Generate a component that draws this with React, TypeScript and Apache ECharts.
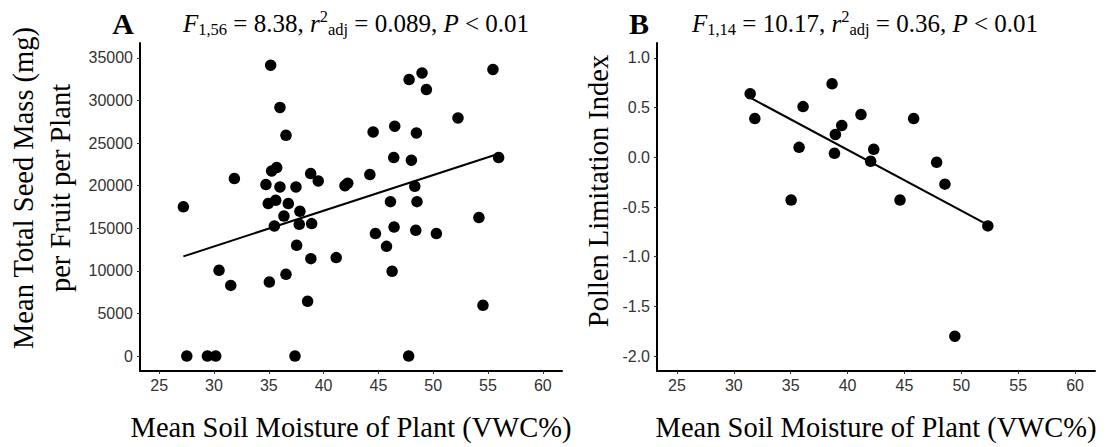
import React, { useEffect, useRef } from "react";
import * as echarts from "echarts";

// ---------- Panel A data: soil moisture (VWC%) vs mean total seed mass (mg) ----------
const moistureA = [
  35.17, 36.02, 36.57, 35.26, 35.72, 31.86, 34.74, 36.02, 37.48, 38.82,
  39.51, 41.95, 42.2, 27.21, 34.95, 35.63, 36.78, 37.84, 36.38, 35.51,
  37.78, 38.91, 37.54, 38.84, 41.15, 30.46, 36.57, 31.53, 35.05, 38.54,
  27.52, 29.4, 30.16, 37.39, 55.45, 48.98, 47.8, 49.38, 52.26, 44.52,
  46.49, 48.47, 46.4, 48.01, 55.97, 44.22, 48.32, 46.1, 48.52, 54.17,
  44.73, 46.43, 48.41, 50.29, 45.74, 46.25, 54.54, 47.76,
];
const seedMassA = [
  34150, 29180, 25920, 21730, 22130, 20840, 20130, 19850, 19850, 21420,
  20560, 20000, 20300, 17520, 17900, 18290, 17900, 17000, 16440, 15270,
  15470, 15550, 13000, 11440, 11560, 10070, 9600, 8300, 8690, 6430,
  0, 0, 0, 0, 33640, 33240, 32460, 31290, 27950, 26310,
  26980, 26190, 23300, 22990, 23300, 21310, 19930, 18130, 18130, 16260,
  14380, 15150, 14760, 14380, 12880, 9950, 5960, 0,
];
// fitted regression line (end points)
const fitAX = [27.21, 55.97];
const fitAY = [11700, 23750];

// ---------- Panel B data: soil moisture vs pollen limitation index ----------
const moistureB = [
  31.44, 31.85, 36.09, 35.74, 35.04, 38.64, 39.49, 38.93, 38.85,
  41.18, 42.3, 42.03, 44.61, 45.81, 47.83, 48.56, 52.33, 49.43,
];
const pollenB = [
  0.64, 0.39, 0.51, 0.1, -0.43, 0.74, 0.32, 0.23, 0.04,
  0.43, 0.08, -0.04, -0.43, 0.39, -0.05, -0.27, -0.69, -1.8,
];
const fitBX = [31.44, 52.33];
const fitBY = [0.6, -0.68];

// ---------- ticks ----------
const xTicks = [25, 30, 35, 40, 45, 50, 55, 60];
const yTicksA = [0, 5000, 10000, 15000, 20000, 25000, 30000, 35000];
const yTicksB = [-2, -1.5, -1, -0.5, 0, 0.5, 1];

// ---------- texts ----------
const panelLabels = ["A", "B"];
const statTextA = "{i|F}{sub|1,56}{n| = 8.38, }{i|r}{sup|2}{sub|adj}{n| = 0.089, }{i|P}{n| < 0.01}";
const statTextB = "{i|F}{sub|1,14}{n| = 10.17, }{i|r}{sup|2}{sub|adj}{n| = 0.36, }{i|P}{n| < 0.01}";
const xTitle = "Mean Soil Moisture of Plant (VWC%)";
const yTitleA = "Mean Total Seed Mass (mg)\nper Fruit per Plant";
const yTitleB = "Pollen Limitation Index";

const serif = "'Liberation Serif', 'Times New Roman', serif";
const sans = "'Liberation Sans', Arial, sans-serif";

const statRich = {
  n: { fontSize: 25, fontFamily: serif, fill: "#000", lineHeight: 30 },
  i: { fontSize: 25, fontFamily: serif, fontStyle: "italic", fill: "#000", lineHeight: 30 },
  sub: { fontSize: 16.5, fontFamily: serif, fill: "#000", lineHeight: 22, verticalAlign: "bottom" },
  sup: { fontSize: 16.5, fontFamily: serif, fill: "#000", lineHeight: 14, verticalAlign: "top" },
};

function xAxisCfg(gridIndex: number) {
  return {
    type: "value",
    gridIndex,
    min: 23.25,
    max: 61.75,
    axisLine: { show: true, onZero: false, lineStyle: { color: "#000", width: 2 } },
    axisTick: { show: true, length: 3, customValues: xTicks, lineStyle: { color: "#333", width: 1 } },
    axisLabel: { customValues: xTicks, fontFamily: sans, fontSize: 16, color: "#333", margin: 6 },
    splitLine: { show: false },
  };
}

function yAxisCfg(gridIndex: number, min: number, max: number, ticks: number[], fmt?: (v: number) => string) {
  return {
    type: "value",
    gridIndex,
    min,
    max,
    axisLine: { show: true, onZero: false, lineStyle: { color: "#000", width: 2 } },
    axisTick: { show: true, length: 3, customValues: ticks, lineStyle: { color: "#333", width: 1 } },
    axisLabel: {
      customValues: ticks,
      fontFamily: sans,
      fontSize: 16,
      color: "#333",
      margin: 7,
      formatter: fmt ? (v: number) => fmt(v) : (v: number) => String(v),
    },
    splitLine: { show: false },
  };
}

export default function App() {
  const ref = useRef<HTMLDivElement>(null);

  useEffect(() => {
    if (!ref.current) return;
    const chart = echarts.init(ref.current, undefined, { renderer: "svg" });

    const ptsA = moistureA.map((x, i) => [x, seedMassA[i]]);
    const ptsB = moistureB.map((x, i) => [x, pollenB[i]]);
    const lineA = fitAX.map((x, i) => [x, fitAY[i]]);
    const lineB = fitBX.map((x, i) => [x, fitBY[i]]);

    chart.setOption({
      animation: false,
      backgroundColor: "#fff",
      grid: [
        { left: 140, right: 544, top: 43, bottom: 76 },
        { left: 657, right: 11, top: 43, bottom: 76 },
      ],
      xAxis: [xAxisCfg(0), xAxisCfg(1)],
      yAxis: [
        yAxisCfg(0, -1750, 36750, yTicksA),
        yAxisCfg(1, -2.15, 1.15, yTicksB, (v) => v.toFixed(1)),
      ],
      series: [
        {
          type: "scatter",
          xAxisIndex: 0,
          yAxisIndex: 0,
          data: ptsA,
          symbol: "circle",
          symbolSize: 11.5,
          itemStyle: { color: "#000", opacity: 1 },
        },
        {
          type: "line",
          xAxisIndex: 0,
          yAxisIndex: 0,
          data: lineA,
          symbol: "none",
          lineStyle: { color: "#000", width: 2 },
        },
        {
          type: "scatter",
          xAxisIndex: 1,
          yAxisIndex: 1,
          data: ptsB,
          symbol: "circle",
          symbolSize: 11.5,
          itemStyle: { color: "#000", opacity: 1 },
        },
        {
          type: "line",
          xAxisIndex: 1,
          yAxisIndex: 1,
          data: lineB,
          symbol: "none",
          lineStyle: { color: "#000", width: 2 },
        },
      ],
      graphic: [
        {
          type: "text",
          x: 123,
          y: 23,
          style: { text: panelLabels[0], font: `bold 30px ${serif}`, fill: "#000", align: "center", verticalAlign: "middle" },
        },
        {
          type: "text",
          x: 639,
          y: 23,
          style: { text: panelLabels[1], font: `bold 30px ${serif}`, fill: "#000", align: "center", verticalAlign: "middle" },
        },
        {
          type: "text",
          x: 356,
          y: 8,
          style: { text: statTextA, rich: statRich, align: "center", verticalAlign: "top" },
        },
        {
          type: "text",
          x: 865,
          y: 8,
          style: { text: statTextB, rich: statRich, align: "center", verticalAlign: "top" },
        },
        {
          type: "text",
          x: 351,
          y: 427,
          style: { text: xTitle, font: `28.5px ${serif}`, fill: "#000", align: "center", verticalAlign: "middle" },
        },
        {
          type: "text",
          x: 876,
          y: 427,
          style: { text: xTitle, font: `28.5px ${serif}`, fill: "#000", align: "center", verticalAlign: "middle" },
        },
        {
          type: "text",
          x: 41.5,
          y: 188,
          rotation: Math.PI / 2,
          style: {
            text: yTitleA,
            font: `28.5px ${serif}`,
            lineHeight: 37,
            fill: "#000",
            align: "center",
            verticalAlign: "middle",
          },
        },
        {
          type: "text",
          x: 598,
          y: 191,
          rotation: Math.PI / 2,
          style: { text: yTitleB, font: `28.5px ${serif}`, fill: "#000", align: "center", verticalAlign: "middle" },
        },
      ],
    });

    return () => chart.dispose();
  }, []);

  return (
    <div
      ref={ref}
      style={{ position: "absolute", left: 0, top: 0, width: 1106, height: 447, background: "#fff" }}
    />
  );
}
